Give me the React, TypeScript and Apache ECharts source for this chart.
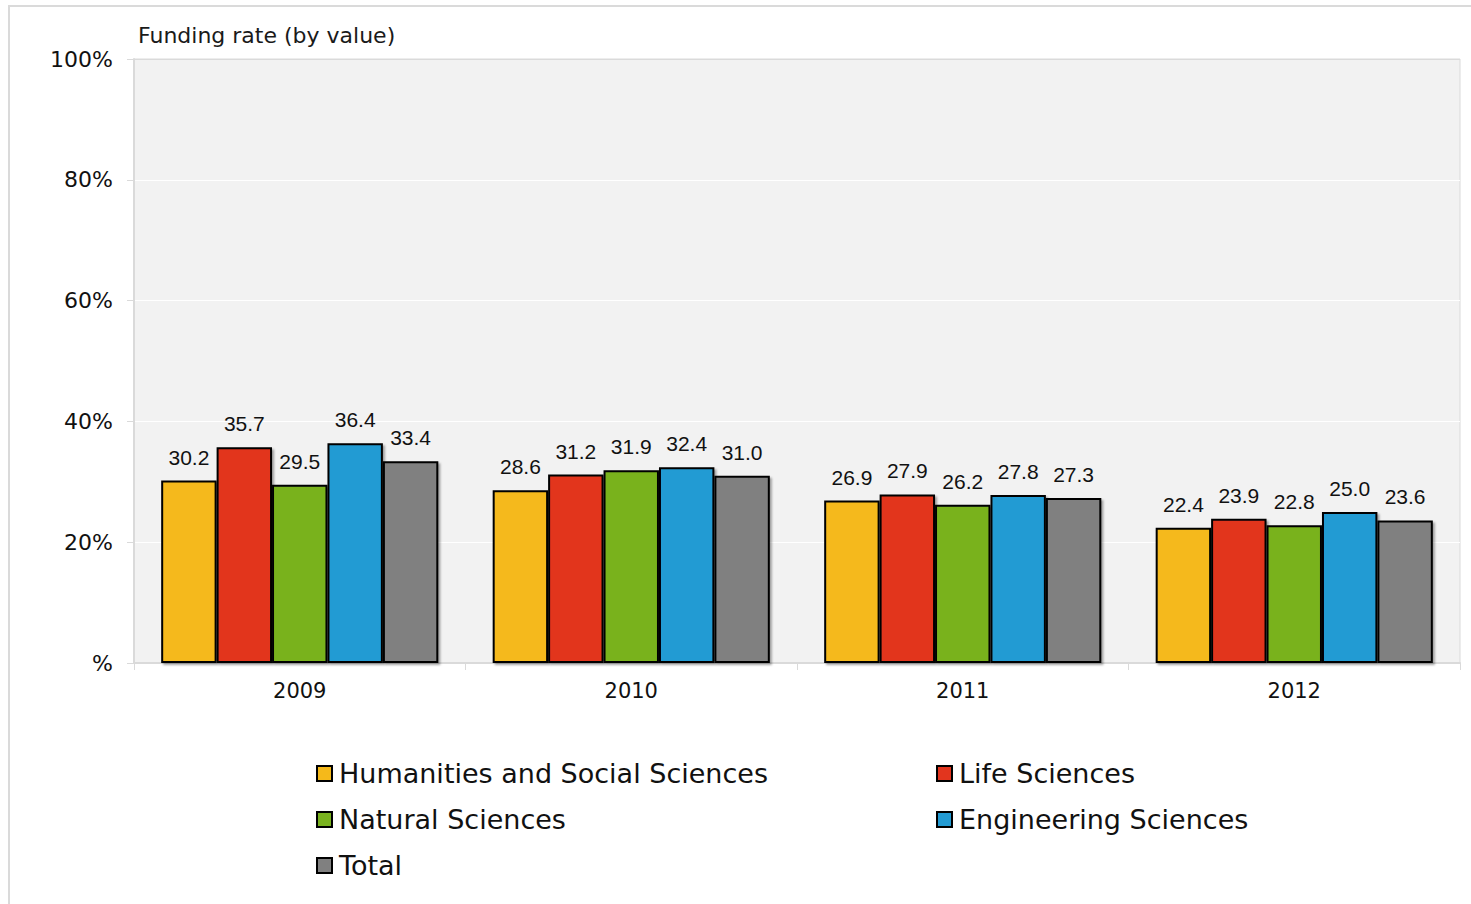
import React, { useEffect, useRef } from "react";
import * as echarts from "echarts";

const years = ["2009", "2010", "2011", "2012"];
const seriesNames = [
  "Humanities and Social Sciences",
  "Life Sciences",
  "Natural Sciences",
  "Engineering Sciences",
  "Total",
];
const humanities = [30.2, 28.6, 26.9, 22.4];
const life = [35.7, 31.2, 27.9, 23.9];
const natural = [29.5, 31.9, 26.2, 22.8];
const engineering = [36.4, 32.4, 27.8, 25.0];
const total = [33.4, 31.0, 27.3, 23.6];
const seriesValues = [humanities, life, natural, engineering, total];
const colors = ["#f5b91a", "#e2351e", "#79b21f", "#239bd3", "#808080"];
const yTicks = [0, 20, 40, 60, 80, 100];

const VERDANA = "Verdana, 'DejaVu Sans', sans-serif";
const ARIAL = "Arial, 'Liberation Sans', sans-serif";

export default function App() {
  const ref = useRef<HTMLDivElement>(null);
  useEffect(() => {
    if (!ref.current) return;
    const chart = echarts.init(ref.current, undefined, { renderer: "svg" });
    const legendText = {
      fontFamily: VERDANA,
      fontSize: 27,
      color: "#111",
      padding: [0, 0, 0, 2],
    };
    chart.setOption({
      animation: false,
      backgroundColor: "#ffffff",
      title: {
        text: "Funding rate (by value)",
        left: 138,
        top: 24,
        padding: 0,
        textStyle: {
          fontFamily: VERDANA,
          fontSize: 22,
          fontWeight: "normal",
          color: "#1a1a1a",
        },
      },
      graphic: [
        {
          type: "rect",
          shape: { x: 9, y: 6, width: 1480, height: 920 },
          style: { fill: "none", stroke: "#dadada", lineWidth: 2 },
          z: 100,
          silent: true,
        },
      ],
      legend: [
        {
          left: 311,
          top: 755,
          orient: "vertical",
          itemWidth: 15,
          itemHeight: 15,
          itemGap: 19,
          icon: "rect",
          data: [seriesNames[0], seriesNames[2], seriesNames[4]],
          textStyle: legendText,
        },
        {
          left: 931,
          top: 755,
          orient: "vertical",
          itemWidth: 15,
          itemHeight: 15,
          itemGap: 19,
          icon: "rect",
          data: [seriesNames[1], seriesNames[3]],
          textStyle: legendText,
        },
      ],
      grid: {
        left: 134,
        right: 11,
        top: 59,
        bottom: 241,
        show: true,
        backgroundColor: "#f2f2f2",
        borderColor: "#dadada",
        borderWidth: 1,
      },
      xAxis: {
        type: "category",
        data: years,
        axisLine: { show: true, lineStyle: { color: "#dadada", width: 2 } },
        axisTick: { show: true, length: 7, lineStyle: { color: "#dadada", width: 1 } },
        axisLabel: {
          fontFamily: VERDANA,
          fontSize: 21,
          color: "#111",
          margin: 17,
        },
      },
      yAxis: {
        type: "value",
        min: 0,
        max: 100,
        interval: 20,
        axisLine: { show: true, lineStyle: { color: "#dadada", width: 2 } },
        axisTick: { show: true, length: 7, lineStyle: { color: "#dadada", width: 1 } },
        splitLine: {
          show: true,
          lineStyle: {
            color: yTicks.map((t) => (t === 100 ? "#dadada" : "#ffffff")),
            width: 1,
          },
        },
        axisLabel: {
          fontFamily: VERDANA,
          fontSize: 22,
          color: "#111",
          margin: 21,
          formatter: (v: number) => (v === 0 ? "%" : v + "%"),
        },
      },
      series: seriesNames.map((name, i) => ({
        name,
        type: "bar",
        data: seriesValues[i],
        barGap: "0%",
        barCategoryGap: "16.4%",
        itemStyle: {
          color: colors[i],
          borderColor: "#000",
          borderWidth: 2,
          shadowColor: "rgba(0,0,0,0.35)",
          shadowBlur: 2,
          shadowOffsetX: 2,
          shadowOffsetY: 2,
        },
        label: {
          show: true,
          position: "top",
          distance: 13,
          fontFamily: ARIAL,
          fontSize: 21,
          color: "#111",
          formatter: (p: any) => Number(p.value).toFixed(1),
        },
      })),
    });
    return () => chart.dispose();
  }, []);
  return (
    <div
      ref={ref}
      style={{ position: "absolute", left: 0, top: 0, width: 1471, height: 904 }}
    />
  );
}
